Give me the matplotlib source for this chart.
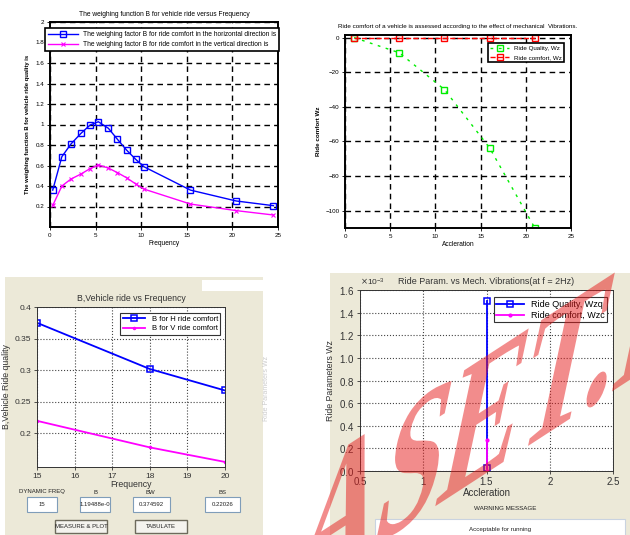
import matplotlib.pyplot as plt
import numpy as np
from matplotlib.patches import Rectangle, PathPatch
from matplotlib.ticker import ScalarFormatter
from matplotlib.textpath import TextPath
from matplotlib.font_manager import FontProperties
from matplotlib.transforms import Affine2D

plt.rcParams['font.family'] = ['Liberation Sans', 'DejaVu Sans']

# --- top left: weighting function B vs frequency
freq = [0.3, 1.3, 2.3, 3.4, 4.4, 5.3, 6.4, 7.4, 8.4, 9.4, 10.3, 15.4, 20.4, 24.5]
b_horiz = [0.36, 0.686, 0.81, 0.914, 0.995, 1.027, 0.963, 0.855, 0.75, 0.66, 0.588, 0.36, 0.254, 0.208]
b_vert = [0.21, 0.40, 0.468, 0.517, 0.57, 0.605, 0.575, 0.53, 0.48, 0.42, 0.37, 0.224, 0.16, 0.117]

# --- top right: ride comfort vs acceleration
accel = [1, 6, 11, 16, 21]
wz_quality = [0, -8.75, -30, -63.75, -110]
wz_comfort = [0, 0, 0, 0, 0]

# --- bottom left: B vs dynamic frequency
dyn_freq = [15, 18, 20]
bh_dyn = [0.375, 0.302, 0.268]
bv_dyn = [0.22, 0.178, 0.155]

# --- bottom right: ride params at f = 2Hz
acc_pt = [1.5, 1.5]
wzq = [1.5e-3, 0.03e-3]
wzc = [0.0, 0.27e-3]

W, H = 630, 535
fig = plt.figure(figsize=(W / 100, H / 100), dpi=100)
fig.patch.set_facecolor('white')


def px_axes(l, t, r, b):
    return fig.add_axes([l / W, 1 - b / H, (r - l) / W, (b - t) / H])


def px_rect(l, t, r, b, fc, ec='none', lw=0.8, z=0):
    fig.add_artist(Rectangle((l / W, 1 - b / H), (r - l) / W, (b - t) / H,
                             transform=fig.transFigure, fc=fc, ec=ec, lw=lw, zorder=z))


def px_text(x, y, s, **kw):
    fig.text(x / W, 1 - y / H, s, **kw)


# GUI panels
beige = '#ece9d8'
px_rect(5, 277, 263, 535, beige)
px_rect(202, 280, 263, 291, 'white')
px_rect(330, 273, 630, 535, beige)

# ---------------- top left
ax1 = px_axes(50, 22, 278, 227)
ax1.plot(freq, b_horiz, '-s', color='#0000ff', lw=1, ms=4, mfc='none', mew=1,
         label='The weighing factor B for ride comfort in the horizontal direction is')
ax1.plot(freq, b_vert, '-x', color='#ff00ff', lw=1, ms=3, mew=0.8,
         label='The weighing factor B for ride comfort in the vertical direction is')
ax1.set_xlim(0, 25)
ax1.set_ylim(0, 2)
ax1.set_xticks([0, 5, 10, 15, 20, 25])
ax1.set_yticks([0.2, 0.4, 0.6, 0.8, 1, 1.2, 1.4, 1.6, 1.8, 2])
ax1.set_yticklabels(['0.2', '0.4', '0.6', '0.8', '1', '1.2', '1.4', '1.6', '1.8', '2'])
ax1.grid(True, color='black', ls=(0, (4, 3)), lw=1)
ax1.tick_params(labelsize=4.5, length=2, width=0.6, pad=2)
for s in ax1.spines.values():
    s.set_linewidth(1.4)
ax1.set_title('The weighing function B for vehicle ride versus Frequency', fontsize=4.8, pad=4)
ax1.set_xlabel('Frequency', fontsize=4.8, labelpad=2)
ax1.set_ylabel('The weighing function B for vehicle ride quality is', fontsize=4.2, labelpad=4,
               weight='bold')
leg = ax1.legend(loc='upper left', bbox_to_anchor=(-0.035, 0.985), fontsize=4.8,
                 frameon=True, fancybox=False, edgecolor='black', framealpha=1,
                 borderpad=0.4, labelspacing=0.45, handlelength=4.5)
leg.get_frame().set_linewidth(1.2)

# ---------------- top right
ax2 = px_axes(345, 35, 571, 228)
ax2.plot(accel, wz_quality, '--s', color='#00ee00', lw=1, ms=4, mfc='none', mew=1,
         dashes=(2, 4), label='Ride Quality, Wz')
ax2.plot(accel, wz_comfort, '--s', color='#ff0000', lw=1, ms=4, mfc='none', mew=1,
         label='Ride comfort, Wz')
ax2.set_xlim(0, 25)
ax2.set_ylim(-110, 1.5)
ax2.set_xticks([0, 5, 10, 15, 20, 25])
ax2.set_yticks([0, -20, -40, -60, -80, -100])
ax2.grid(True, color='black', ls=(0, (4, 3)), lw=1)
ax2.tick_params(labelsize=4.5, length=2, width=0.6, pad=2)
for s in ax2.spines.values():
    s.set_linewidth(1.4)
ax2.set_title('Ride comfort of a vehicle is assessed according to the effect of mechanical  Vibrations.',
              fontsize=4.5, pad=5)
ax2.set_xlabel('Accleration', fontsize=4.8, labelpad=2)
ax2.set_ylabel('Ride comfort Wz', fontsize=4.5, labelpad=3, weight='bold')
leg = ax2.legend(loc='upper right', bbox_to_anchor=(0.985, 0.975), fontsize=4.5,
                 frameon=True, fancybox=False, edgecolor='black', framealpha=1,
                 borderpad=0.4, labelspacing=0.6, handlelength=3)
leg.get_frame().set_linewidth(1.2)

# ---------------- bottom left
ax3 = px_axes(37, 307, 225, 467)
ax3.plot(dyn_freq, bh_dyn, '-s', color='#0000ff', lw=1.3, ms=4.5, mfc='none', mew=1.1,
         label='B for H ride comfort')
ax3.plot(dyn_freq, bv_dyn, '-', marker='.', color='#ff00ff', lw=1.3, ms=3,
         label='B for V ride comfort')
ax3.set_xlim(15, 20)
ax3.set_ylim(0.147, 0.4)
ax3.set_yticks([0.2, 0.25, 0.3, 0.35, 0.4])
ax3.set_yticklabels(['0.2', '0.25', '0.3', '0.35', '0.4'])
ax3.grid(True, color='#444444', ls=':', lw=0.8)
ax3.tick_params(labelsize=6, length=2, width=0.6, pad=2, colors='#333333')
for s in ax3.spines.values():
    s.set_linewidth(0.7)
    s.set_color('#333333')
ax3.set_title('B,Vehicle ride vs Frequency', fontsize=6.3, pad=4, color='#333333')
ax3.set_xlabel('Frequency', fontsize=6.3, labelpad=0, color='#333333')
ax3.set_ylabel('B,Vehicle Ride quality', fontsize=6.3, labelpad=3, color='#333333')
leg = ax3.legend(loc='upper right', bbox_to_anchor=(0.995, 0.985), fontsize=5.5,
                 frameon=True, fancybox=False, edgecolor='#333333', framealpha=1,
                 borderpad=0.3, labelspacing=0.3, handlelength=3)
leg.get_frame().set_linewidth(0.8)

# GUI controls under bottom-left plot
field_names = ['DYNAMIC FREQ', 'B', 'BW', 'BS']
field_values = ['15', '1.19488e-0', '0.374592', '0.22026']
field_boxes = [(27, 57), (80, 110), (133, 170), (205, 240)]
field_label_x = [42, 95, 150, 222]
for name, val, (l, r), lx in zip(field_names, field_values, field_boxes, field_label_x):
    px_text(lx, 492, name, fontsize=4.3, ha='center', va='center', color='#222222')
    px_rect(l, 497, r, 512, 'white', ec='#7f9db9', lw=0.8, z=2)
    px_text((l + r) / 2, 504.5, val, fontsize=4.3, ha='center', va='center', color='#222222', zorder=3)
button_names = ['MEASURE & PLOT', 'TABULATE']
button_boxes = [(55, 107), (135, 187)]
for name, (l, r) in zip(button_names, button_boxes):
    px_rect(l, 520, r, 533, '#f4f3ee', ec='#6d6a5c', lw=1.0, z=2)
    px_text((l + r) / 2, 526.5, name, fontsize=4.3, ha='center', va='center', color='#222222', zorder=3)
px_text(266, 388, 'Ride Parameters Wz', fontsize=5, rotation=90, ha='center', va='center',
        color='#cccccc')

# ---------------- bottom right
ax4 = px_axes(360, 290, 613, 471)
ax4.plot(acc_pt, wzq, '-s', color='#0000ff', lw=1.3, ms=4.5, mfc='none', mew=1.1,
         label='Ride Quality, Wzq')
ax4.plot(acc_pt, wzc, '-', marker='.', color='#ff00ff', lw=1.3, ms=4, label='Ride comfort, Wzc')
ax4.set_xlim(0.5, 2.5)
ax4.set_ylim(0, 1.6e-3)
ax4.set_xticks([0.5, 1, 1.5, 2, 2.5])
ax4.set_xticklabels(['0.5', '1', '1.5', '2', '2.5'])
ax4.set_yticks(np.array([0, 0.2, 0.4, 0.6, 0.8, 1, 1.2, 1.4, 1.6]) * 1e-3)
fmt = ScalarFormatter(useMathText=True)
fmt.set_powerlimits((-2, 2))
ax4.yaxis.set_major_formatter(fmt)
ax4.yaxis.get_offset_text().set_fontsize(6)
ax4.grid(True, color='#444444', ls=':', lw=0.8)
ax4.tick_params(labelsize=7, length=2, width=0.6, pad=2, colors='#333333')
for s in ax4.spines.values():
    s.set_linewidth(0.7)
    s.set_color('#333333')
ax4.set_title('Ride Param. vs Mech. Vibrations(at f = 2Hz)', fontsize=6.5, pad=4, color='#333333')
ax4.set_xlabel('Accleration', fontsize=7, labelpad=1, color='#333333')
ax4.set_ylabel('Ride Parameters Wz', fontsize=6.3, labelpad=3, color='#333333')
leg = ax4.legend(loc='upper right', bbox_to_anchor=(0.995, 0.985), fontsize=6.5,
                 frameon=True, fancybox=False, edgecolor='#333333', framealpha=1,
                 borderpad=0.3, labelspacing=0.2, handlelength=3)
leg.get_frame().set_linewidth(0.8)

px_text(505, 508, 'WARNING MESSAGE', fontsize=4.5, ha='center', va='center', color='#222222')
px_rect(375, 519, 625, 540, 'white', ec='#c9d3e0', lw=0.8, z=2)
px_text(500, 530, 'Acceptable for running', fontsize=4.5, ha='center', va='center',
        color='#222222', zorder=3)

# watermark: slanted serif text across the lower right panel
fp = FontProperties(family='Liberation Serif', weight='bold')
em = 150
wm_path = TextPath((0, 0), 'ASET.IJ', size=em, prop=fp)
head = TextPath((0, 0), 'ASET.', size=em, prop=fp).get_extents()
dot_local = (head.x1 - 0.07 * em, 0.07 * em)
wm_aff = Affine2D().scale(0.92, 1).skew_deg(45, 0).rotate_deg(33)
p = wm_aff.transform(dot_local)
wm_aff.translate(598 - p[0], (H - 388) - p[1])
fig.add_artist(PathPatch(wm_path, transform=wm_aff + Affine2D().scale(1 / W, 1 / H) + fig.transFigure,
                         fc='#e61a1a', ec='none', alpha=0.5, zorder=50))

fig.savefig('out.png', dpi=100)
